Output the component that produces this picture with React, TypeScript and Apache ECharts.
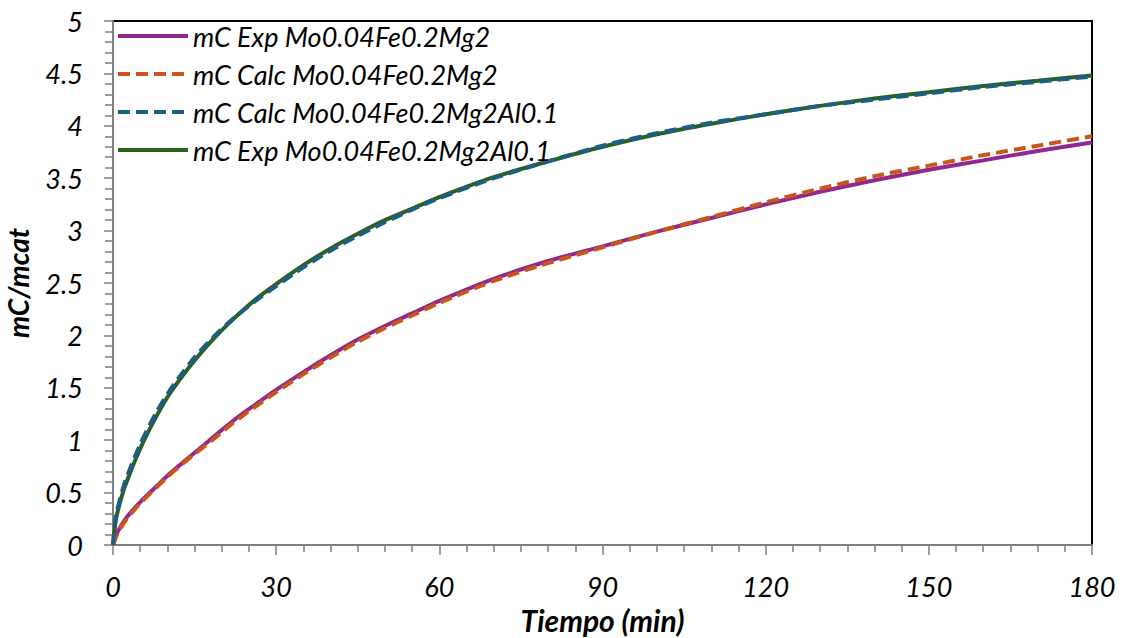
import React, { useEffect, useRef } from "react";
import * as echarts from "echarts";

const time = [0, 0.5, 1, 2, 3, 4, 5, 6, 8, 10, 12, 15, 18, 21, 24, 27, 30, 35, 40, 45, 50, 55, 60, 70, 80, 90, 100, 110, 120, 130, 140, 150, 160, 170, 180];

const expMg2 = [0, 0.08, 0.14, 0.225, 0.295, 0.355, 0.41, 0.46, 0.56, 0.66, 0.75, 0.88, 1.01, 1.14, 1.26, 1.37, 1.48, 1.65, 1.81, 1.96, 2.09, 2.21, 2.33, 2.54, 2.71, 2.85, 2.99, 3.12, 3.25, 3.37, 3.48, 3.58, 3.67, 3.76, 3.84];
const calcMg2 = [0, 0.07, 0.13, 0.21, 0.28, 0.34, 0.4, 0.45, 0.55, 0.65, 0.74, 0.87, 0.99, 1.12, 1.24, 1.35, 1.46, 1.63, 1.79, 1.94, 2.07, 2.19, 2.31, 2.52, 2.69, 2.84, 2.99, 3.13, 3.27, 3.4, 3.52, 3.62, 3.72, 3.81, 3.9];
const calcMg2Al = [0, 0.26, 0.38, 0.57, 0.71, 0.84, 0.96, 1.07, 1.27, 1.44, 1.59, 1.79, 1.96, 2.11, 2.24, 2.36, 2.47, 2.65, 2.81, 2.95, 3.08, 3.2, 3.31, 3.5, 3.66, 3.81, 3.93, 4.03, 4.11, 4.19, 4.25, 4.31, 4.37, 4.42, 4.47];
const expMg2Al = [0, 0.23, 0.35, 0.53, 0.67, 0.8, 0.92, 1.03, 1.23, 1.41, 1.56, 1.76, 1.94, 2.1, 2.245, 2.375, 2.49, 2.67, 2.83, 2.97, 3.1, 3.21, 3.32, 3.51, 3.66, 3.8, 3.92, 4.02, 4.11, 4.19, 4.26, 4.32, 4.38, 4.43, 4.48];

const seriesNames = [
  "mC Exp Mo0.04Fe0.2Mg2",
  "mC Calc Mo0.04Fe0.2Mg2",
  "mC Calc Mo0.04Fe0.2Mg2Al0.1",
  "mC Exp Mo0.04Fe0.2Mg2Al0.1",
];
const seriesColors = ["#92278F", "#C8561A", "#1B5E86", "#2D5F1F"];
const seriesDashed = [false, true, true, false];
const seriesValues = [expMg2, calcMg2, calcMg2Al, expMg2Al];

const FONT = "Lato, 'Open Sans', sans-serif";

export default function App() {
  const ref = useRef<HTMLDivElement>(null);
  useEffect(() => {
    if (!ref.current) return;
    const chart = echarts.init(ref.current, null, { renderer: "svg" });
    const series = seriesNames.map((name, i) => ({
      name,
      type: "line",
      data: time.map((t, k) => [t, seriesValues[i][k]]),
      smooth: 0.25,
      showSymbol: false,
      symbol: "none",
      z: i === 3 ? 1 : 2,
      lineStyle: {
        color: seriesColors[i],
        width: 4,
        type: seriesDashed[i] ? [12, 6] : "solid",
      },
      itemStyle: { color: seriesColors[i] },
    }));
    chart.setOption({
      animation: false,
      backgroundColor: "#ffffff",
      grid: {
        left: 113,
        right: 35,
        top: 21,
        bottom: 93,
        containLabel: false,
        outerBoundsMode: "none",
        show: true,
        borderColor: "#000000",
        borderWidth: 2,
        backgroundColor: "transparent",
      },
      legend: {
        orient: "vertical",
        left: 116,
        top: 21,
        padding: 0,
        itemWidth: 70,
        itemHeight: 16,
        itemGap: 8,
        itemStyle: { opacity: 0 },
        lineStyle: { width: 4 },
        textStyle: {
          fontFamily: FONT,
          fontStyle: "italic",
          fontSize: 27,
          color: "#000000",
          lineHeight: 30,
        },
        data: seriesNames,
      },
      xAxis: {
        type: "value",
        min: 0,
        max: 180,
        interval: 30,
        name: "Tiempo (min)",
        nameLocation: "middle",
        nameGap: 47,
        nameTextStyle: {
          fontFamily: FONT,
          fontStyle: "italic",
          fontWeight: "bold",
          fontSize: 30,
          color: "#000000",
        },
        axisLine: { show: true, onZero: false, lineStyle: { color: "#7f7f7f", width: 2 } },
        axisTick: { show: true, length: 10, lineStyle: { color: "#7f7f7f", width: 1.5 } },
        minorTick: { show: true, splitNumber: 6, length: 7, lineStyle: { color: "#7f7f7f", width: 1.5 } },
        splitLine: { show: false },
        axisLabel: {
          margin: 28,
          fontFamily: FONT,
          fontStyle: "italic",
          fontSize: 27,
          color: "#000000",
        },
      },
      yAxis: {
        type: "value",
        min: 0,
        max: 5,
        interval: 0.5,
        name: "mC/mcat",
        nameLocation: "middle",
        nameGap: 81,
        nameRotate: 90,
        nameTextStyle: {
          fontFamily: FONT,
          fontStyle: "italic",
          fontWeight: "bold",
          fontSize: 28,
          color: "#000000",
        },
        axisLine: { show: true, onZero: false, lineStyle: { color: "#7f7f7f", width: 2 } },
        axisTick: { show: true, length: 9, lineStyle: { color: "#7f7f7f", width: 1.5 } },
        minorTick: { show: true, splitNumber: 5, length: 8, lineStyle: { color: "#7f7f7f", width: 1.5 } },
        splitLine: { show: false },
        axisLabel: {
          margin: 30,
          fontFamily: FONT,
          fontStyle: "italic",
          fontSize: 27,
          color: "#000000",
        },
      },
      series,
    });
    return () => chart.dispose();
  }, []);
  return <div ref={ref} style={{ width: 1127, height: 638, position: "absolute", left: 0, top: 0 }} />;
}
